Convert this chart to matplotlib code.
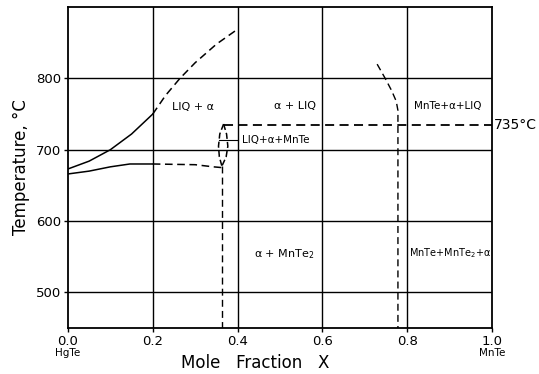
import numpy as np
import matplotlib
matplotlib.use('Agg')
from matplotlib import pyplot as plt

# liquidus (upper) and lower boundary, solid part then dashed part
liq_solid_x = [0.0, 0.05, 0.10, 0.15, 0.20]
liq_solid_t = [673, 684, 700, 722, 750]
liq_dash_x = [0.20, 0.23, 0.264, 0.30, 0.35, 0.40]
liq_dash_t = [750, 776, 800, 822, 848, 869]

low_solid_x = [0.0, 0.05, 0.10, 0.146, 0.20]
low_solid_t = [666, 670, 676, 680, 680]
low_dash_x = [0.20, 0.30, 0.343, 0.362]
low_dash_t = [680, 679, 676, 675]

# small lens near x = 0.36
lens_left_x = [0.367, 0.358, 0.355, 0.357, 0.363]
lens_left_t = [736, 722, 705, 690, 677]
lens_right_x = [0.367, 0.374, 0.377, 0.373, 0.363]
lens_right_t = [736, 722, 705, 690, 677]

vert1_x = [0.363, 0.363]
vert1_t = [677, 450]

eut_x = [0.367, 1.0]
eut_t = [735, 735]

right_x = [0.729, 0.748, 0.763, 0.774, 0.778, 0.778]
right_t = [820, 800, 783, 768, 755, 450]

xticks = [0.0, 0.2, 0.4, 0.6, 0.8, 1.0]
xticklabels = ['0.0', '0.2', '0.4', '0.6', '0.8', '1.0']
yticks = [500, 600, 700, 800]

fig = plt.figure(figsize=(5.39, 3.74), dpi=100)
ax = fig.add_axes([0.126, 0.123, 0.787, 0.858])
ax.set_xlim(0, 1.0)
ax.set_ylim(450, 900)

for x in xticks[1:-1]:
    ax.axvline(x, color='black', lw=1.0, zorder=1)
for y in yticks:
    ax.axhline(y, color='black', lw=1.0, zorder=1)

dash = (0, (5, 3))
ax.plot(liq_solid_x, liq_solid_t, color='black', lw=1.1)
ax.plot(liq_dash_x, liq_dash_t, color='black', lw=1.1, linestyle=dash)
ax.plot(low_solid_x, low_solid_t, color='black', lw=1.1)
ax.plot(low_dash_x, low_dash_t, color='black', lw=1.1, linestyle=dash)
ax.plot(lens_left_x, lens_left_t, color='black', lw=1.1, linestyle=(0, (4, 2)))
ax.plot(lens_right_x, lens_right_t, color='black', lw=1.1, linestyle=(0, (4, 2)))
ax.plot(vert1_x, vert1_t, color='black', lw=1.0, linestyle=(0, (5, 3)))
ax.plot(eut_x, eut_t, color='black', lw=1.3, linestyle=(0, (5, 3)))
ax.plot(right_x, right_t, color='black', lw=1.0, linestyle=(0, (5, 3)))
ax.plot([0.355, 0.40], [714, 714], color='black', lw=0.8)

fs = 8
ax.text(0.295, 760, 'LIQ + α', fontsize=fs, ha='center', va='center')
ax.text(0.535, 762, 'α + LIQ', fontsize=fs, ha='center', va='center')
ax.text(0.895, 762, 'MnTe+α+LIQ', fontsize=fs - 0.5, ha='center', va='center')
ax.text(0.41, 714, 'LIQ+α+MnTe', fontsize=fs - 0.5, ha='left', va='center')
ax.text(0.51, 553, 'α + MnTe$_2$', fontsize=fs, ha='center', va='center')
ax.text(0.9, 555, 'MnTe+MnTe$_2$+α', fontsize=fs - 1, ha='center', va='center')
ax.text(1.005, 735, '735°C', fontsize=10, ha='left', va='center', clip_on=False)

ax.set_xticks(xticks)
ax.set_xticklabels(xticklabels, fontsize=9.5)
ax.set_yticks(yticks)
ax.set_yticklabels([str(v) for v in yticks], fontsize=9.5)
ax.tick_params(length=3, width=1, direction='out', pad=2)
ax.text(0.0, -0.078, 'HgTe', transform=ax.transAxes, fontsize=7.5, ha='center', va='center')
ax.text(1.0, -0.078, 'MnTe', transform=ax.transAxes, fontsize=7.5, ha='center', va='center')

ax.set_ylabel('Temperature, °C', fontsize=12, labelpad=4)
fig.text(0.473, 0.03, 'Mole   Fraction   X', fontsize=12, ha='center', va='center')

for s in ax.spines.values():
    s.set_linewidth(1.3)

fig.savefig('out.png', dpi=100)
